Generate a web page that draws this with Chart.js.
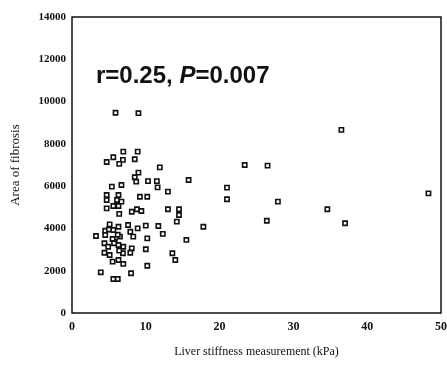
<!DOCTYPE html>
<html>
<head>
<meta charset="utf-8">
<script src="https://cdn.jsdelivr.net/npm/chart.js@4"></script>
<style>
  html, body { margin: 0; padding: 0; background: #fff; }
  #wrap { width: 447px; height: 375px; }
</style>
</head>
<body>
<div id="wrap"><canvas id="c" width="447" height="375"></canvas></div>
<script>
// liver stiffness (kPa) vs area of fibrosis
const stiffness = [
  5.9, 9.0, 6.95, 8.9, 5.6, 4.7, 6.9, 6.4, 8.5, 11.9, 23.4, 9.0, 8.5, 8.7, 10.3, 11.5,
  11.6, 15.8, 5.4, 6.7, 21.0, 21.0, 13.0, 4.7, 6.3, 4.7, 6.1, 6.7, 9.2, 10.2, 4.7, 5.6,
  6.3, 8.1, 8.8, 9.4, 13.0, 14.5, 14.5, 14.2, 6.4, 5.1, 6.3, 7.6, 8.9, 10.0, 11.7, 17.8,
  3.25, 4.5, 4.5, 5.6, 6.5, 7.9, 8.3, 10.2, 12.3, 15.5, 4.4, 4.9, 5.8, 6.3, 6.95, 8.1,
  10.0, 7.9, 4.4, 5.1, 6.9, 13.6, 14.0, 5.5, 6.3, 6.95, 10.2, 3.9, 8.0, 5.6, 6.2,
  5.0, 5.5, 5.7, 6.2, 6.4, 36.5, 26.5, 27.9, 48.3, 34.6, 26.4, 37.0
];
const fibrosisArea = [
  9470, 9450, 7630, 7630, 7365, 7140, 7240, 7050, 7270, 6890, 7000, 6640, 6420, 6210, 6240, 6240,
  5945, 6290, 5975, 6055, 5930, 5380, 5740, 5580, 5580, 5345, 5345, 5265, 5500, 5500, 4950, 5060,
  5060, 4790, 4905, 4825, 4905, 4905, 4635, 4320, 4685, 4195, 4080, 4160, 4005, 4130, 4115, 4080,
  3640, 3890, 3690, 3925, 3610, 3845, 3610, 3530, 3740, 3455, 3300, 3135, 3375, 3215, 3135, 3060,
  3015, 2850, 2850, 2745, 2825, 2825, 2505, 2430, 2505, 2320, 2235, 1925, 1880, 1610, 1610,
  3950, 3500, 3300, 3700, 2950, 8660, 6970, 5265, 5660, 4905, 4365, 4245
];
const xTicks = [0, 10, 20, 30, 40, 50];
const yTicks = [0, 2000, 4000, 6000, 8000, 10000, 12000, 14000];

const points = stiffness.map((x, i) => ({ x: x, y: fibrosisArea[i] }));

// box around the plot area + r / P text
const boxPlugin = {
  id: 'box',
  afterDraw(chart) {
    const ctx = chart.ctx;
    const a = chart.chartArea;
    ctx.save();
    ctx.strokeStyle = '#111';
    ctx.lineWidth = 1.5;
    ctx.strokeRect(a.left, a.top, a.right - a.left, a.bottom - a.top);

    ctx.fillStyle = '#111';
    ctx.textBaseline = 'alphabetic';
    let x = 96, y = 83;
    ctx.font = 'bold 24px "Liberation Sans", Arial, sans-serif';
    const s1 = 'r=0.25, ';
    ctx.fillText(s1, x, y);
    x += ctx.measureText(s1).width;
    ctx.font = 'italic bold 24px "Liberation Sans", Arial, sans-serif';
    ctx.fillText('P', x, y);
    x += ctx.measureText('P').width;
    ctx.font = 'bold 24px "Liberation Sans", Arial, sans-serif';
    ctx.fillText('=0.007', x, y);
    ctx.restore();
  }
};

new Chart(document.getElementById('c'), {
  type: 'scatter',
  data: {
    datasets: [{
      data: points,
      pointStyle: 'rect',
      pointRadius: 3,
      pointBorderWidth: 1.6,
      pointBorderColor: '#111',
      pointBackgroundColor: '#fff'
    }]
  },
  options: {
    responsive: false,
    animation: false,
    layout: { padding: { top: 17, right: 6, left: 0, bottom: 0 } },
    plugins: { legend: { display: false }, tooltip: { enabled: false } },
    scales: {
      x: {
        min: 0, max: 50,
        afterBuildTicks: s => { s.ticks = xTicks.map(v => ({ value: v })); },
        afterFit: s => { s.height = 62; s.paddingRight = 0; s.paddingLeft = 0; },
        grid: { display: false, drawTicks: false },
        border: { display: false },
        ticks: {
          padding: 7,
          color: '#111',
          callback: v => String(v),
          font: { family: '"Liberation Serif", "Times New Roman", serif', size: 12, weight: 'bold' }
        },
        title: {
          display: true,
          text: 'Liver stiffness measurement (kPa)',
          color: '#111',
          padding: { top: 6, bottom: 16 },
          font: { family: '"Liberation Serif", "Times New Roman", serif', size: 12 }
        }
      },
      y: {
        min: 0, max: 14000,
        afterBuildTicks: s => { s.ticks = yTicks.map(v => ({ value: v })); },
        afterFit: s => { s.width = 72; s.paddingTop = 0; s.paddingBottom = 0; },
        grid: { display: false, drawTicks: true, tickLength: 4, tickColor: '#111', tickWidth: 1 },
        border: { display: false },
        ticks: {
          padding: 2,
          color: '#111',
          callback: v => String(v),
          font: { family: '"Liberation Serif", "Times New Roman", serif', size: 11, weight: 'bold' }
        },
        title: {
          display: true,
          text: 'Area of fibrosis',
          color: '#111',
          padding: { bottom: 0, top: 8 },
          font: { family: '"Liberation Serif", "Times New Roman", serif', size: 13 }
        }
      }
    }
  },
  plugins: [boxPlugin]
});
</script>
</body>
</html>
